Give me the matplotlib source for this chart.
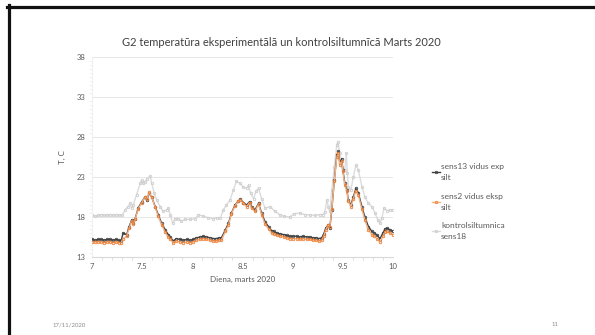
import matplotlib
matplotlib.use('Agg')
import matplotlib.pyplot as plt
from matplotlib.lines import Line2D
from matplotlib.ticker import MultipleLocator

plt.rcParams['font.family'] = ['Lato', 'DejaVu Sans']

# dienas (sens13 un sens2 kopigas)
days_exp = [7.00, 7.03, 7.06, 7.09, 7.12, 7.15, 7.18, 7.21, 7.24, 7.27, 7.29,
            7.31, 7.345, 7.37, 7.395, 7.41, 7.43, 7.46, 7.495, 7.53, 7.545,
            7.57, 7.595, 7.63, 7.66, 7.695, 7.73, 7.76, 7.78, 7.81, 7.84,
            7.88, 7.91, 7.95, 7.98, 8.01, 8.04, 8.08, 8.11, 8.14, 8.18,
            8.21, 8.24, 8.27, 8.29, 8.33, 8.36, 8.39, 8.425, 8.46, 8.48,
            8.51, 8.54, 8.57, 8.59, 8.625, 8.66, 8.69, 8.725, 8.76, 8.79,
            8.81, 8.84, 8.87, 8.91, 8.94, 8.97, 9.00, 9.04, 9.07, 9.10,
            9.14, 9.17, 9.20, 9.23, 9.26, 9.29, 9.31, 9.33, 9.355, 9.37,
            9.39, 9.415, 9.44, 9.455, 9.47, 9.49, 9.50, 9.52, 9.54, 9.555,
            9.58, 9.605, 9.63, 9.655, 9.69, 9.72, 9.755, 9.79, 9.815, 9.84,
            9.87, 9.90, 9.92, 9.94, 9.97, 10.0]

sens13 = [15.2, 15.1, 15.2, 15.2, 15.1, 15.2, 15.2, 15.1, 15.2, 15.1, 15.0,
          16.0, 15.8, 16.8, 17.6, 17.2, 17.8, 19.1, 19.9, 20.5, 20.1,
          21.0, 20.5, 19.3, 18.3, 17.2, 16.4, 15.8, 15.5, 15.0, 15.3,
          15.2, 15.1, 15.2, 15.1, 15.2, 15.4, 15.5, 15.6, 15.5, 15.4,
          15.3, 15.3, 15.4, 15.4, 16.4, 17.2, 18.5, 19.5, 20.0, 20.2,
          19.8, 19.5, 19.9, 19.3, 18.9, 19.7, 18.5, 17.4, 16.8, 16.3,
          16.2, 16.0, 15.9, 15.8, 15.7, 15.6, 15.6, 15.6, 15.5, 15.6,
          15.5, 15.5, 15.4, 15.4, 15.3, 15.4, 15.9, 16.6, 17.0, 16.6,
          18.9, 22.6, 25.7, 26.2, 24.7, 25.3, 23.9, 22.2, 21.4, 20.1,
          19.5, 20.5, 21.6, 21.0, 19.3, 18.0, 16.8, 16.2, 16.0, 15.75,
          15.3, 16.0, 16.5, 16.6, 16.4, 16.2]

sens2 = [14.9, 14.9, 14.9, 14.9, 14.8, 14.9, 14.9, 14.8, 14.9, 14.8, 14.8,
         15.3, 15.6, 16.6, 17.5, 17.1, 17.7, 19.0, 19.8, 20.5, 20.2,
         21.1, 20.5, 19.2, 18.1, 17.0, 16.1, 15.5, 15.2, 14.8, 15.0,
         14.9, 14.8, 14.9, 14.8, 14.9, 15.1, 15.2, 15.3, 15.2, 15.1,
         15.0, 15.0, 15.1, 15.1, 16.2, 17.0, 18.4, 19.4, 20.0, 20.1,
         19.7, 19.3, 19.8, 19.1, 18.7, 19.6, 18.3, 17.1, 16.5, 16.0,
         15.9, 15.7, 15.6, 15.5, 15.4, 15.3, 15.3, 15.3, 15.2, 15.3,
         15.2, 15.2, 15.1, 15.1, 15.0, 15.1, 15.6, 16.4, 17.0, 16.8,
         19.0, 22.5, 25.5, 26.0, 24.5, 25.0, 23.7, 22.0, 21.2, 20.0,
         19.3, 20.3, 21.3, 20.7, 19.0, 17.6, 16.4, 15.8, 15.6, 15.3,
         14.9, 15.6, 16.1, 16.2, 16.0, 15.8]

days_ctrl = [7.00, 7.03, 7.06, 7.09, 7.12, 7.15, 7.18, 7.21, 7.24, 7.27, 7.30,
             7.33, 7.36, 7.38, 7.395, 7.41, 7.445, 7.48, 7.495, 7.51, 7.53,
             7.55, 7.58, 7.595, 7.62, 7.645, 7.68, 7.71, 7.745, 7.76, 7.78,
             7.805, 7.83, 7.86, 7.89, 7.93, 7.98, 8.03, 8.06, 8.11, 8.16,
             8.21, 8.25, 8.28, 8.31, 8.34, 8.375, 8.41, 8.44, 8.475, 8.51,
             8.54, 8.56, 8.58, 8.61, 8.635, 8.66, 8.69, 8.725, 8.775, 8.825,
             8.87, 8.91, 8.97, 9.01, 9.07, 9.12, 9.17, 9.22, 9.27, 9.30,
             9.32, 9.34, 9.355, 9.37, 9.39, 9.415, 9.44, 9.45, 9.47, 9.49,
             9.52, 9.535, 9.545, 9.555, 9.58, 9.605, 9.63, 9.655, 9.69, 9.72,
             9.755, 9.79, 9.82, 9.85, 9.87, 9.89, 9.91, 9.94, 9.97, 10.0]

sens18 = [18.2, 18.1, 18.2, 18.3, 18.2, 18.2, 18.3, 18.2, 18.3, 18.2, 18.2,
          18.9, 19.3, 19.7, 19.1, 19.5, 20.8, 22.2, 22.6, 22.2, 22.4,
          22.8, 23.1, 22.2, 21.0, 20.1, 19.3, 18.7, 18.9, 19.1, 18.3,
          17.2, 17.8, 17.8, 17.5, 17.7, 17.7, 17.8, 18.3, 18.1, 17.9,
          17.8, 17.9, 17.9, 18.9, 19.5, 20.1, 21.4, 22.5, 22.2, 21.7,
          21.6, 22.0, 21.0, 20.3, 21.2, 21.6, 20.3, 19.1, 19.3, 18.7,
          18.3, 18.1, 18.0, 18.4, 18.5, 18.3, 18.25, 18.2, 18.3, 18.3,
          18.6, 20.1, 19.3, 18.7, 21.4, 24.3, 27.0, 27.4, 26.0, 24.3,
          23.9, 26.0, 23.5, 21.8, 21.4, 23.0, 24.5, 23.9, 21.8, 20.5,
          19.7, 19.3, 18.5, 17.6, 17.2, 17.9, 19.1, 18.8, 18.9, 18.9]

fig = plt.figure(figsize=(5.95, 3.35), dpi=100)
ax = fig.add_axes([0.1546, 0.2328, 0.5059, 0.5971])

ax.plot(days_exp, sens13, color='#404040', lw=1.0, marker='o', ms=1.8,
        mfc='none', mew=0.6, label='sens13 vidus exp\nsilt', zorder=3)
ax.plot(days_exp, sens2, color='#f4b183', lw=1.0, marker='o', ms=1.8,
        mfc='none', mec='#ed7d31', mew=0.6, label='sens2 vidus eksp\nsilt', zorder=4)
ax.plot(days_ctrl, sens18, color='#dcdcdc', lw=1.0, marker='o', ms=1.8,
        mfc='none', mec='#cccccc', mew=0.6, label='kontrolsiltumnica\nsens18', zorder=2)

ax.set_xlim(7, 10)
ax.set_ylim(13, 38)
ax.set_xticks([7, 7.5, 8, 8.5, 9, 9.5, 10])
ax.set_xticklabels(['7', '7.5', '8', '8.5', '9', '9.5', '10'])
ax.set_yticks([13, 18, 23, 28, 33, 38])
ax.xaxis.set_minor_locator(MultipleLocator(0.1))
ax.yaxis.set_minor_locator(MultipleLocator(0.5))
ax.grid(axis='y', color='#e3e3e3', lw=0.6)
ax.set_axisbelow(True)
for s in ['top', 'right']:
    ax.spines[s].set_visible(False)
ax.spines['bottom'].set_color('#d9d9d9')
ax.spines['left'].set_color('#f0f0f0')
ax.tick_params(axis='both', which='major', labelsize=5.5, colors='#d9d9d9',
               labelcolor='#595959', length=0, pad=4.5)
ax.tick_params(axis='x', which='minor', length=2.5, color='#d9d9d9', width=0.6)
ax.tick_params(axis='y', which='minor', length=2, color='#ececec', width=0.5)

fig.text(281 / 595, 1 - 43 / 335,
         'G2 temperatūra eksperimentālā un kontrolsiltumnīcā Marts 2020',
         fontsize=8, color='#404040', ha='center', va='center')
ax.set_xlabel('Diena, marts 2020', fontsize=5.8, color='#595959', labelpad=4)
ax.set_ylabel('T, C', fontsize=5.8, color='#595959', labelpad=8)

leg = ax.legend(loc='upper left', bbox_to_anchor=(1.12, 0.485), frameon=False,
                fontsize=6, handlelength=0.9, handletextpad=0.15,
                labelspacing=1.4, labelcolor='#595959', borderaxespad=0)
for t in leg.get_texts():
    t.set_linespacing(1.65)

# slaida ramis un kajene
fig.add_artist(Line2D([8.5 / 595, 8.5 / 595], [0, 1 - 5 / 335], color='#111111',
                      lw=2.3, transform=fig.transFigure))
fig.add_artist(Line2D([7 / 595, 1], [1 - 6.5 / 335, 1 - 6.5 / 335], color='#111111',
                      lw=2.3, transform=fig.transFigure))
fig.text(53 / 595, 1 - 325 / 335, '17/11/2020', fontsize=4.3, color='#8c8c8c', va='center')
fig.text(552 / 595, 1 - 325 / 335, '11', fontsize=4.3, color='#8c8c8c', va='center')

fig.savefig('out.png', dpi=100)
